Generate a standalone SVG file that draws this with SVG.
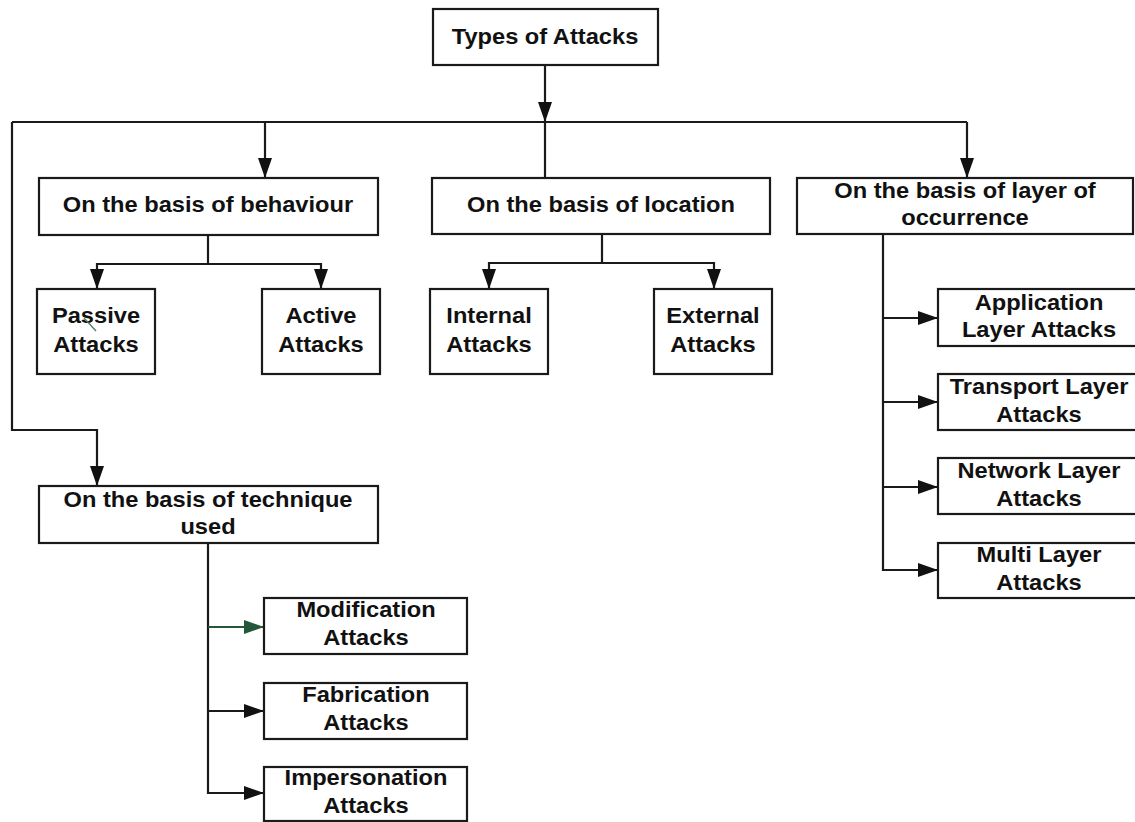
<svg xmlns="http://www.w3.org/2000/svg" width="1135" height="822" viewBox="0 0 1135 822">
  <style>
    .box { fill: #ffffff; stroke: #1a1a1a; stroke-width: 2.2; }
    .wire { fill: none; stroke: #1a1a1a; stroke-width: 2.2; }
    .wire-green { fill: none; stroke: #24563a; stroke-width: 2.2; }
    .label { font-family: "Liberation Sans", Arial, sans-serif; font-weight: bold; font-size: 21.5px; fill: #111111; text-anchor: middle; }
  </style>
  <defs>
    <marker id="arrow" markerUnits="userSpaceOnUse" markerWidth="20" markerHeight="14" refX="20" refY="7" orient="auto">
      <path d="M0,0 L20,7 L0,14 Z" fill="#111111"/>
    </marker>
    <marker id="arrow-green" markerUnits="userSpaceOnUse" markerWidth="20" markerHeight="14" refX="20" refY="7" orient="auto">
      <path d="M0,0 L20,7 L0,14 Z" fill="#24563a"/>
    </marker>
  </defs>

  <rect width="1135" height="822" fill="#ffffff"/>

  <!-- connectors -->
  <g id="connectors">
    <path class="wire" d="M545,65 V122" marker-end="url(#arrow)"/>
    <path class="wire" d="M12,122 H967"/>
    <path class="wire" d="M265,122 V178" marker-end="url(#arrow)"/>
    <path class="wire" d="M545,122 V178"/>
    <path class="wire" d="M967,122 V178" marker-end="url(#arrow)"/>
    <path class="wire" d="M12,122 V430 H97 V486" marker-end="url(#arrow)"/>

    <path class="wire" d="M208,235 V264"/>
    <path class="wire" d="M208,264 H97 V289" marker-end="url(#arrow)"/>
    <path class="wire" d="M208,264 H321 V289" marker-end="url(#arrow)"/>

    <path class="wire" d="M602,234 V263"/>
    <path class="wire" d="M602,263 H489 V289" marker-end="url(#arrow)"/>
    <path class="wire" d="M602,263 H714 V289" marker-end="url(#arrow)"/>

    <path class="wire" d="M883,234 V570 H938" marker-end="url(#arrow)"/>
    <path class="wire" d="M883,318 H938" marker-end="url(#arrow)"/>
    <path class="wire" d="M883,402 H938" marker-end="url(#arrow)"/>
    <path class="wire" d="M883,487 H938" marker-end="url(#arrow)"/>

    <path class="wire" d="M208,543 V793 H264" marker-end="url(#arrow)"/>
    <path class="wire-green" d="M208,627 H264" marker-end="url(#arrow-green)"/>
    <path class="wire" d="M208,711 H264" marker-end="url(#arrow)"/>
  </g>

  <!-- nodes -->
  <g id="types-of-attacks">
    <rect class="box" x="433" y="9" width="225" height="56"/>
    <text class="label" transform="translate(545,0) scale(1.1,1)" x="0" y="44">Types of Attacks</text>
  </g>

  <g id="basis-behaviour">
    <rect class="box" x="39" y="178" width="339" height="57"/>
    <text class="label" transform="translate(208,0) scale(1.1,1)" x="0" y="212">On the basis of behaviour</text>
  </g>

  <g id="basis-location">
    <rect class="box" x="432" y="178" width="338" height="56"/>
    <text class="label" transform="translate(601,0) scale(1.1,1)" x="0" y="212">On the basis of location</text>
  </g>

  <g id="basis-layer">
    <rect class="box" x="797" y="178" width="336" height="56"/>
    <text class="label" transform="translate(965,0) scale(1.1,1)"><tspan x="0" y="198">On the basis of layer of</tspan><tspan x="0" y="225">occurrence</tspan></text>
  </g>

  <g id="passive-attacks">
    <rect class="box" x="37" y="289" width="118" height="85"/>
    <text class="label" transform="translate(96,0) scale(1.1,1)"><tspan x="0" y="323">Passive</tspan><tspan x="0" y="352">Attacks</tspan></text>
    <line x1="84" y1="318" x2="96" y2="331" stroke="#4f7d6b" stroke-width="1.4"/>
  </g>

  <g id="active-attacks">
    <rect class="box" x="262" y="289" width="118" height="85"/>
    <text class="label" transform="translate(321,0) scale(1.1,1)"><tspan x="0" y="323">Active</tspan><tspan x="0" y="352">Attacks</tspan></text>
  </g>

  <g id="internal-attacks">
    <rect class="box" x="430" y="289" width="118" height="85"/>
    <text class="label" transform="translate(489,0) scale(1.1,1)"><tspan x="0" y="323">Internal</tspan><tspan x="0" y="352">Attacks</tspan></text>
  </g>

  <g id="external-attacks">
    <rect class="box" x="654" y="289" width="118" height="85"/>
    <text class="label" transform="translate(713,0) scale(1.1,1)"><tspan x="0" y="323">External</tspan><tspan x="0" y="352">Attacks</tspan></text>
  </g>

  <g id="basis-technique">
    <rect class="box" x="39" y="486" width="339" height="57"/>
    <text class="label" transform="translate(208,0) scale(1.1,1)"><tspan x="0" y="507">On the basis of technique</tspan><tspan x="0" y="534">used</tspan></text>
  </g>

  <g id="application-layer">
    <rect class="box" x="938" y="289" width="212" height="57"/>
    <text class="label" transform="translate(1039,0) scale(1.1,1)"><tspan x="0" y="310">Application</tspan><tspan x="0" y="337">Layer Attacks</tspan></text>
  </g>

  <g id="transport-layer">
    <rect class="box" x="938" y="374" width="212" height="56"/>
    <text class="label" transform="translate(1039,0) scale(1.1,1)"><tspan x="0" y="394">Transport Layer</tspan><tspan x="0" y="422">Attacks</tspan></text>
  </g>

  <g id="network-layer">
    <rect class="box" x="938" y="458" width="212" height="56"/>
    <text class="label" transform="translate(1039,0) scale(1.1,1)"><tspan x="0" y="478">Network Layer</tspan><tspan x="0" y="506">Attacks</tspan></text>
  </g>

  <g id="multi-layer">
    <rect class="box" x="938" y="543" width="212" height="55"/>
    <text class="label" transform="translate(1039,0) scale(1.1,1)"><tspan x="0" y="562">Multi Layer</tspan><tspan x="0" y="590">Attacks</tspan></text>
  </g>

  <g id="modification-attacks">
    <rect class="box" x="264" y="598" width="203" height="56"/>
    <text class="label" transform="translate(366,0) scale(1.1,1)"><tspan x="0" y="617">Modification</tspan><tspan x="0" y="645">Attacks</tspan></text>
  </g>

  <g id="fabrication-attacks">
    <rect class="box" x="264" y="683" width="203" height="56"/>
    <text class="label" transform="translate(366,0) scale(1.1,1)"><tspan x="0" y="702">Fabrication</tspan><tspan x="0" y="730">Attacks</tspan></text>
  </g>

  <g id="impersonation-attacks">
    <rect class="box" x="264" y="767" width="203" height="54"/>
    <text class="label" transform="translate(366,0) scale(1.1,1)"><tspan x="0" y="785">Impersonation</tspan><tspan x="0" y="813">Attacks</tspan></text>
  </g>
</svg>
